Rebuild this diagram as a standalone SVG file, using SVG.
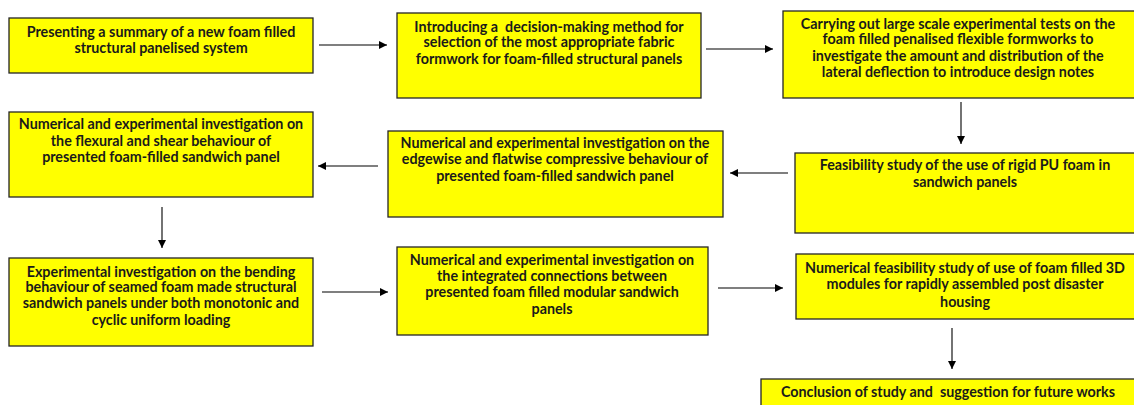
<svg xmlns="http://www.w3.org/2000/svg" width="1134" height="405" viewBox="0 0 1134 405">
<style>
.box{fill:#ffff00;stroke:#262626;stroke-width:1.3}
.t{font-family:Lato,"Liberation Sans",sans-serif;font-weight:bold;font-size:14.3px;fill:#1a1a1a;text-anchor:middle;white-space:pre}
.c{stroke:#000;stroke-width:1.1;fill:none;marker-end:url(#ah)}
</style>
<defs>
<marker id="ah" viewBox="0 0 10 10" refX="10" refY="5" markerWidth="8" markerHeight="8" markerUnits="userSpaceOnUse" orient="auto">
<path d="M0,0 L10,5 L0,10 Z" fill="#000"/>
</marker>
</defs>
<rect width="1134" height="405" fill="#fff"/>
<g id="connectors">
<line class="c" x1="319" y1="45" x2="387" y2="45"/>
<line class="c" x1="706" y1="49" x2="773" y2="49"/>
<line class="c" x1="961" y1="102" x2="961" y2="144"/>
<line class="c" x1="788" y1="173" x2="730" y2="173"/>
<line class="c" x1="378" y1="166" x2="318" y2="166"/>
<line class="c" x1="162" y1="207" x2="162" y2="248"/>
<line class="c" x1="322" y1="292" x2="388" y2="292"/>
<line class="c" x1="718" y1="288" x2="783" y2="288"/>
<line class="c" x1="952" y1="328" x2="952" y2="369"/>
</g>
<g id="n1">
<rect class="box" x="9" y="18" width="304" height="55"/>
<text class="t" x="161" y="37">Presenting a summary of a new foam filled</text>
<text class="t" x="161" y="53">structural panelised system</text>
</g>
<g id="n2">
<rect class="box" x="397" y="13" width="304" height="85"/>
<text class="t" x="549" y="32">Introducing a  decision-making method for</text>
<text class="t" x="549" y="47">selection of the most appropriate fabric</text>
<text class="t" x="549" y="64">formwork for foam-filled structural panels</text>
</g>
<g id="n3">
<rect class="box" x="783" y="11" width="352" height="87"/>
<text class="t" x="958" y="29">Carrying out large scale experimental tests on the</text>
<text class="t" x="958" y="44">foam filled penalised flexible formworks to</text>
<text class="t" x="958" y="61">investigate the amount and distribution of the</text>
<text class="t" x="958" y="77">lateral deflection to introduce design notes</text>
</g>
<g id="n4">
<rect class="box" x="795" y="153" width="340" height="80"/>
<text class="t" x="965" y="170">Feasibility study of the use of rigid PU foam in</text>
<text class="t" x="965" y="187">sandwich panels</text>
</g>
<g id="n5">
<rect class="box" x="388" y="131" width="335" height="86"/>
<text class="t" x="555" y="148">Numerical and experimental investigation on the</text>
<text class="t" x="555" y="164">edgewise and flatwise compressive behaviour of</text>
<text class="t" x="555" y="181">presented foam-filled sandwich panel</text>
</g>
<g id="n6">
<rect class="box" x="9" y="112" width="304" height="85"/>
<text class="t" x="161" y="129">Numerical and experimental investigation on</text>
<text class="t" x="161" y="146">the flexural and shear behaviour of</text>
<text class="t" x="161" y="162">presented foam-filled sandwich panel</text>
</g>
<g id="n7">
<rect class="box" x="9" y="258" width="304" height="88"/>
<text class="t" x="161" y="277">Experimental investigation on the bending</text>
<text class="t" x="161" y="292">behaviour of seamed foam made structural</text>
<text class="t" x="161" y="308">sandwich panels under both monotonic and</text>
<text class="t" x="161" y="325">cyclic uniform loading</text>
</g>
<g id="n8">
<rect class="box" x="397" y="247" width="311" height="88"/>
<text class="t" x="552" y="265">Numerical and experimental investigation on</text>
<text class="t" x="552" y="281">the integrated connections between</text>
<text class="t" x="552" y="297">presented foam filled modular sandwich</text>
<text class="t" x="552" y="314">panels</text>
</g>
<g id="n9">
<rect class="box" x="796" y="254" width="339" height="65"/>
<text class="t" x="965" y="273">Numerical feasibility study of use of foam filled 3D</text>
<text class="t" x="965" y="289">modules for rapidly assembled post disaster</text>
<text class="t" x="965" y="307">housing</text>
</g>
<g id="n10">
<rect class="box" x="761" y="379" width="374" height="40"/>
<text class="t" x="948" y="397">Conclusion of study and  suggestion for future works</text>
</g>
</svg>
